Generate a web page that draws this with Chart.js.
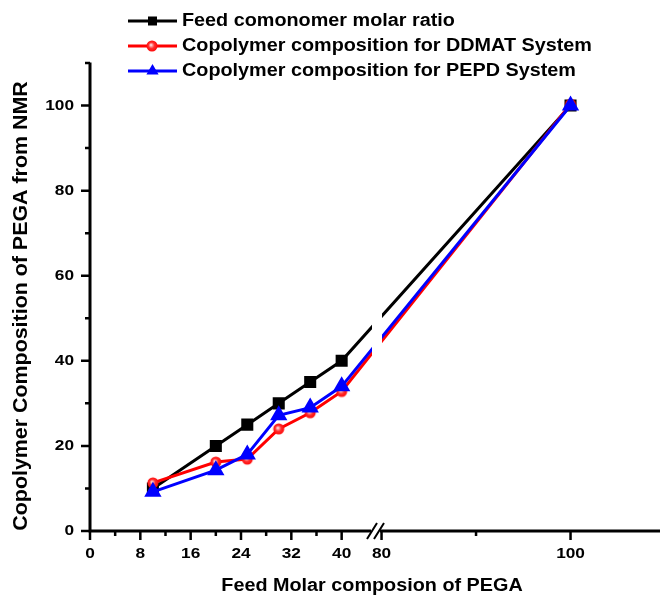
<!DOCTYPE html>
<html>
<head>
<meta charset="utf-8">
<script src="https://cdn.jsdelivr.net/npm/chart.js@4.4.1/dist/chart.umd.min.js"></script>
<style>
    html, body { margin: 0; padding: 0; background: #fff; }
    canvas { display: block; }
</style>
</head>
<body>
<canvas id="chart" width="660" height="601"></canvas>
<script>
// Data
const feedPega = [10, 20, 25, 30, 35, 40, 100];
const feedRatio = [10, 20, 25, 30, 35, 40, 100];
const ddmatComp = [11.3, 16.2, 16.9, 24, 27.8, 32.8, 100.3];
const pepdComp = [9.2, 14.3, 18, 27.2, 29, 34, 100];

const xTicks = [0, 8, 16, 24, 32, 40, 80, 100];
const xMinor = [4, 12, 20, 28, 36, 90];
const yTicks = [0, 20, 40, 60, 80, 100];
const yMinor = [10, 30, 50, 70, 90, 110];

const seriesNames = [
    'Feed comonomer molar ratio',
    'Copolymer composition for DDMAT System',
    'Copolymer composition for PEPD System'
];

// Broken x axis: 0-44 then 80-110 with a wider unit
const BREAK_LO = 44, BREAK_HI = 80, U80 = 46.34, RIGHT_RATIO = 1.502;
function toAxis(x) {
    return x <= BREAK_LO ? x : U80 + (x - BREAK_HI) * RIGHT_RATIO;
}

const FONT = '"Liberation Sans", Arial, sans-serif';

function txt(ctx, s, x, y, size, align, sx, baseline) {
    ctx.save();
    ctx.translate(x, y);
    ctx.scale(sx, 1);
    ctx.font = `bold ${size}px ${FONT}`;
    ctx.fillStyle = '#000';
    ctx.textAlign = align;
    ctx.textBaseline = baseline || 'middle';
    ctx.fillText(s, 0, 0);
    ctx.restore();
}

// Red "ball" marker
function ballMarker() {
    const c = document.createElement('canvas');
    c.width = 14; c.height = 14;
    const g = c.getContext('2d');
    const grad = g.createRadialGradient(6, 6, 0.5, 7, 7, 6);
    grad.addColorStop(0, '#ffd6d6');
    grad.addColorStop(0.45, '#ff3030');
    grad.addColorStop(1, '#ff0000');
    g.beginPath();
    g.arc(7, 7, 5.5, 0, Math.PI * 2);
    g.fillStyle = grad;
    g.fill();
    return c;
}
const ball = ballMarker();

function pts(ys) {
    return feedPega.map((x, i) => ({ x: toAxis(x), y: ys[i] }));
}

const axesPlugin = {
    id: 'brokenAxes',
    afterDatasetsDraw(chart) {
        const ctx = chart.ctx;
        const a = chart.chartArea;
        // white gap where the lines cross the break
        ctx.save();
        ctx.fillStyle = '#fff';
        ctx.fillRect(372, a.top, 10, a.bottom - a.top - 6);
        ctx.restore();
    },
    afterDraw(chart) {
        const ctx = chart.ctx;
        const a = chart.chartArea;
        const xs = chart.scales.x, ys = chart.scales.y;
        ctx.save();
        ctx.strokeStyle = '#000';
        ctx.lineCap = 'butt';

        // axis lines
        ctx.lineWidth = 3;
        ctx.beginPath();
        ctx.moveTo(a.left, a.top - 0.5);
        ctx.lineTo(a.left, a.bottom + 1.5);
        ctx.moveTo(a.left - 1.5, a.bottom);
        ctx.lineTo(371, a.bottom);
        ctx.moveTo(380, a.bottom);
        ctx.lineTo(a.right, a.bottom);
        ctx.stroke();

        // break marks
        ctx.lineWidth = 2;
        ctx.beginPath();
        ctx.moveTo(367, 539); ctx.lineTo(377, 523);
        ctx.moveTo(374, 539); ctx.lineTo(384, 523);
        ctx.stroke();

        // ticks
        ctx.lineWidth = 2.5;
        ctx.beginPath();
        xTicks.forEach(v => {
            const px = xs.getPixelForValue(toAxis(v));
            ctx.moveTo(px, a.bottom); ctx.lineTo(px, a.bottom + 9);
        });
        xMinor.forEach(v => {
            const px = xs.getPixelForValue(toAxis(v));
            ctx.moveTo(px, a.bottom); ctx.lineTo(px, a.bottom + 5);
        });
        yTicks.forEach(v => {
            const py = ys.getPixelForValue(v);
            ctx.moveTo(a.left, py); ctx.lineTo(a.left - 9, py);
        });
        yMinor.forEach(v => {
            const py = ys.getPixelForValue(v);
            ctx.moveTo(a.left, py); ctx.lineTo(a.left - 5, py);
        });
        ctx.stroke();

        // tick labels
        xTicks.forEach(v => {
            txt(ctx, String(v), xs.getPixelForValue(toAxis(v)), 554, 15, 'center', 1.15);
        });
        yTicks.forEach(v => {
            txt(ctx, String(v), 74, ys.getPixelForValue(v), 15, 'right', 1.15);
        });

        // axis titles
        txt(ctx, 'Feed Molar composion of PEGA', 372, 591, 18, 'center', 1.1, 'alphabetic');
        ctx.save();
        ctx.translate(27, 306);
        ctx.rotate(-Math.PI / 2);
        ctx.scale(1.07, 1);
        ctx.font = `bold 20px ${FONT}`;
        ctx.fillStyle = '#000';
        ctx.textAlign = 'center';
        ctx.textBaseline = 'alphabetic';
        ctx.fillText('Copolymer Composition of PEGA from NMR', 0, 0);
        ctx.restore();

        // legend
        const rows = [21, 46, 71];
        const cols = ['#000000', '#ff0000', '#0000ff'];
        rows.forEach((y, i) => {
            ctx.strokeStyle = cols[i];
            ctx.lineWidth = 3;
            ctx.beginPath();
            ctx.moveTo(128, y); ctx.lineTo(177, y);
            ctx.stroke();
            ctx.fillStyle = cols[i];
            if (i === 0) {
                ctx.fillRect(148, y - 4.5, 9, 9);
            } else if (i === 1) {
                ctx.drawImage(ball, 152 - 7, y - 7);
            } else {
                ctx.beginPath();
                ctx.moveTo(152.5, y - 7);
                ctx.lineTo(158.6, y + 3.5);
                ctx.lineTo(146.4, y + 3.5);
                ctx.closePath();
                ctx.fill();
            }
            txt(ctx, seriesNames[i], 182, y, 18, 'left', 1.1);
        });
        ctx.restore();
    }
};

new Chart(document.getElementById('chart'), {
    type: 'line',
    data: {
        datasets: [
            {
                label: seriesNames[0],
                data: pts(feedRatio),
                borderColor: '#000000',
                backgroundColor: '#000000',
                borderWidth: 3,
                pointStyle: 'rect',
                pointRadius: 6.4,
                order: 3
            },
            {
                label: seriesNames[1],
                data: pts(ddmatComp),
                borderColor: '#ff0000',
                backgroundColor: '#ff0000',
                borderWidth: 3,
                pointStyle: ball,
                pointRadius: 6,
                order: 2
            },
            {
                label: seriesNames[2],
                data: pts(pepdComp),
                borderColor: '#0000ff',
                backgroundColor: '#0000ff',
                borderWidth: 3,
                pointStyle: 'triangle',
                pointRadius: 7,
                order: 1
            }
        ]
    },
    options: {
        responsive: false,
        devicePixelRatio: 1,
        animation: false,
        layout: { autoPadding: false, padding: { left: 90, right: 0, top: 63, bottom: 70 } },
        scales: {
            x: { type: 'linear', min: 0, max: 90.6, display: false },
            y: { type: 'linear', min: 0, max: 110, display: false }
        },
        plugins: {
            legend: { display: false },
            tooltip: { enabled: false }
        }
    },
    plugins: [axesPlugin]
});
</script>
</body>
</html>
